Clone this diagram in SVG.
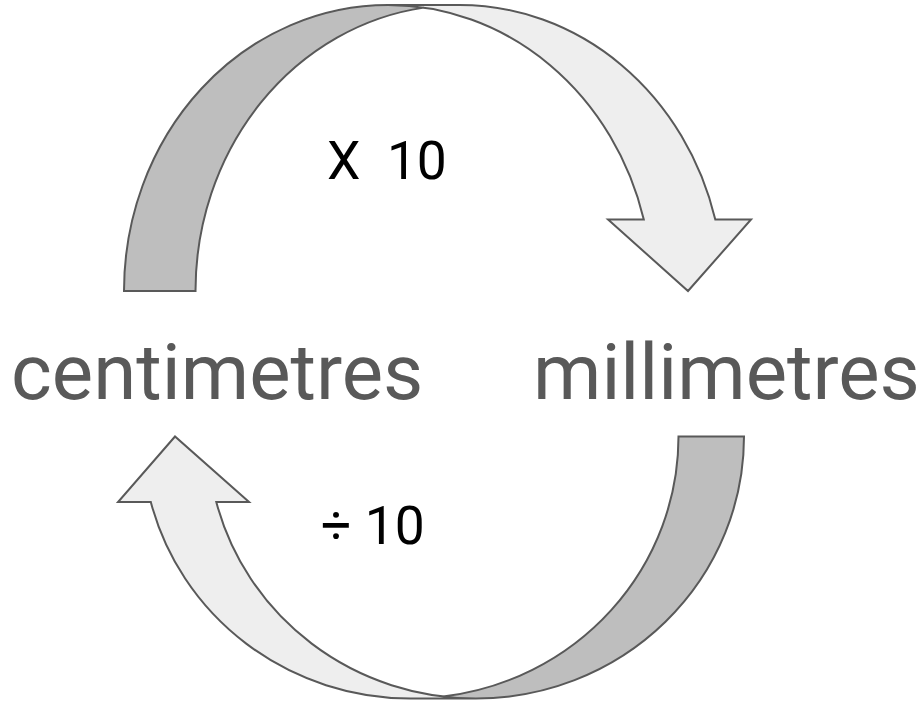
<svg xmlns="http://www.w3.org/2000/svg" width="922" height="701" viewBox="0 0 922 701">
  <style>
    .front { fill: #eeeeee; stroke: none; }
    .back { fill: #bebebe; stroke: none; }
    .outline { fill: none; stroke: #595959; stroke-width: 2; stroke-linejoin: miter; }
    .unit { font-family: Roboto, "Noto Sans", "Liberation Sans", sans-serif; font-size: 78px; fill: #595959; }
    .op { font-family: Roboto, "Noto Sans", "Liberation Sans", sans-serif; font-size: 53.33px; fill: #000000; white-space: pre; }
  </style>
  <rect width="922" height="701" fill="#ffffff"/>
  <g id="connectors">
    <g id="arrow-multiply" transform="translate(124,291)">
      <path class="front" d="M 564,0 L 484.05,-71.5 L 519.8,-71.5 A 264.1 286 0 0 0 264.1,-286 L 335.6,-286 A 264.1 286 0 0 1 591.3,-71.5 L 627.05,-71.5 Z"/>
      <path class="back" d="M 299.85,-283.37 A 264.1 286 0 0 0 71.5,0 L 0,0 A 264.1 286 0 0 1 299.85,-283.37 Z"/>
      <path class="outline" d="M 299.85,-283.37 A 264.1 286 0 0 0 71.5,0 L 0,0 A 264.1 286 0 0 1 264.1,-286 L 335.6,-286 A 264.1 286 0 0 1 591.3,-71.5 L 627.05,-71.5 L 564,0 L 484.05,-71.5 L 519.8,-71.5 A 264.1 286 0 0 0 264.1,-286"/>
    </g>
    <g id="arrow-divide" transform="translate(744,436.5) rotate(180)">
      <path class="front" d="M 569,0 L 494.95,-65.5 L 527.7,-65.5 A 268.1 262 0 0 0 268.1,-262 L 333.6,-262 A 268.1 262 0 0 1 593.2,-65.5 L 625.95,-65.5 Z"/>
      <path class="back" d="M 300.85,-260.04 A 268.1 262 0 0 0 65.5,0 L 0,0 A 268.1 262 0 0 1 300.85,-260.04 Z"/>
      <path class="outline" d="M 300.85,-260.04 A 268.1 262 0 0 0 65.5,0 L 0,0 A 268.1 262 0 0 1 268.1,-262 L 333.6,-262 A 268.1 262 0 0 1 593.2,-65.5 L 625.95,-65.5 L 569,0 L 494.95,-65.5 L 527.7,-65.5 A 268.1 262 0 0 0 268.1,-262"/>
    </g>
  </g>
  <g id="node-centimetres">
    <text class="unit" x="11" y="399">centimetres</text>
  </g>
  <g id="node-millimetres">
    <text class="unit" x="533" y="399">millimetres</text>
  </g>
  <g id="label-multiply">
    <text class="op" x="327" y="179" xml:space="preserve">X  10</text>
  </g>
  <g id="label-divide">
    <text class="op" x="321" y="544">÷ 10</text>
  </g>
</svg>
